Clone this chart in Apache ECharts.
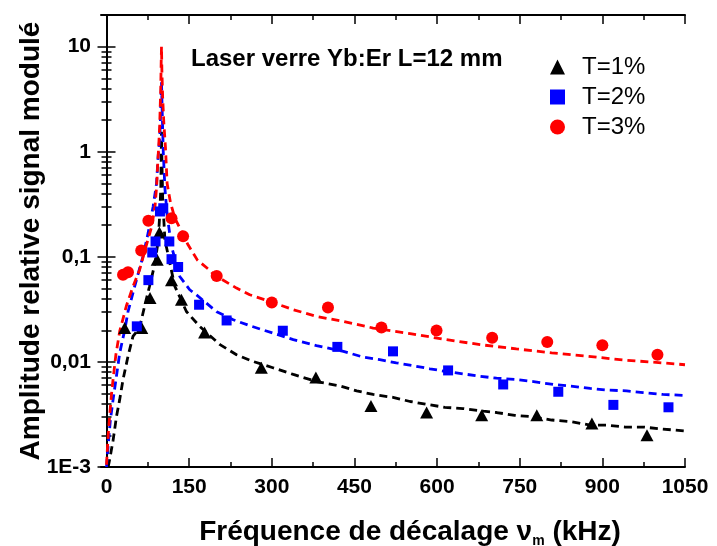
<!DOCTYPE html>
<html>
<head>
<meta charset="utf-8">
<script src="https://cdn.jsdelivr.net/npm/echarts@6/dist/echarts.min.js"></script>
<style>
html,body{margin:0;padding:0;background:#fff;}
#chart{width:717px;height:546px;}
</style>
</head>
<body>
<div id="chart"></div>
<script>
// ---- data ----
const seriesNames = ['T=1%', 'T=2%', 'T=3%'];
const xTicks = [0, 150, 300, 450, 600, 750, 900, 1050];
const xMinorTicks = [75, 225, 375, 525, 675, 825, 975];
const yTicks = [0.001, 0.01, 0.1, 1, 10];
const yTickLabels = ['1E-3', '0,01', '0,1', '1', '10'];
const yMinorTicks = [0.002,0.003,0.004,0.005,0.006,0.007,0.008,0.009,
  0.02,0.03,0.04,0.05,0.06,0.07,0.08,0.09,
  0.2,0.3,0.4,0.5,0.6,0.7,0.8,0.9,
  2,3,4,5,6,7,8,9,20];

const pointsT1 = [[33,0.021],[64,0.021],[79,0.0405],[92,0.094],[96,0.17],[118,0.060],[136,0.039],
  [178,0.019],[281,0.0088],[380,0.0071],[480,0.0038],[581,0.0033],[681,0.0031],[781,0.0031],
  [881,0.0026],[981,0.0020]];
const pointsT2 = [[55,0.0218],[76,0.060],[83,0.110],[89,0.140],[97,0.27],[103,0.29],[114,0.140],
  [118,0.095],[130,0.080],[168,0.035],[218,0.0248],[320,0.0198],[419,0.0139],[520,0.0126],
  [620,0.0083],[720,0.0061],[820,0.0052],[920,0.0039],[1020,0.0037]];
const pointsT3 = [[30,0.0675],[39,0.0713],[63,0.115],[76,0.22],[118,0.233],[139,0.157],[200,0.0656],
  [300,0.0368],[402,0.033],[499,0.0213],[599,0.0199],[700,0.0170],[800,0.0155],[900,0.0144],
  [1000,0.0117]];

const fitT1 = [[3,0.001],[6,0.0012],[12,0.0018],[18,0.003],[24,0.0044],[30,0.0068],[39,0.0113],
  [48,0.0175],[60,0.021],[69,0.0337],[78,0.0522],[88,0.087],[94,0.145],[97,0.279],[98.6,0.465],
  [99.8,1.55],[100.6,0.8],[102,0.35],[106,0.145],[115,0.087],[124,0.0522],[127,0.0486],[145,0.0302],
  [169,0.0218],[206,0.0146],[236,0.0117],[266,0.0101],[302,0.0088],[339,0.0076],[381,0.0065],
  [424,0.0059],[454,0.0053],[484,0.0049],[520,0.0046],[551,0.0042],[587,0.0039],[614,0.0037],
  [647,0.0036],[684,0.0034],[708,0.0033],[741,0.0031],[775,0.0030],[808,0.0028],[844,0.0027],
  [878,0.0025],[908,0.0025],[941,0.0024],[974,0.0024],[1008,0.0023],[1050,0.0022]];
const fitT2 = [[0,0.001],[3,0.0016],[7,0.0028],[12,0.0044],[18,0.0073],[24,0.0122],[33,0.020],
  [39,0.030],[51,0.052],[66,0.10],[75.5,0.168],[84.6,0.30],[90.8,0.50],[93.7,0.9],[96.8,1.39],
  [98,2.15],[99,3.33],[99.8,4.6],[101,2.5],[103,1.0],[106,0.45],[110,0.25],[118,0.125],[133,0.065],
  [151,0.0486],[163,0.0436],[200,0.030],[230,0.0252],[260,0.0221],[302,0.0188],[339,0.0163],
  [381,0.0143],[430,0.0126],[466,0.0111],[496,0.0105],[526,0.0098],[557,0.0092],[587,0.0086],
  [617,0.0081],[647,0.0077],[678,0.0073],[708,0.0070],[744,0.0068],[775,0.0065],[811,0.0061],
  [841,0.0059],[878,0.0056],[908,0.0054],[944,0.0053],[974,0.0051],[1010,0.0049],[1050,0.0048]];
const fitT3 = [[0,0.00105],[3,0.002],[6,0.0032],[9,0.0049],[12,0.0069],[17,0.0117],[24,0.0196],
  [36,0.034],[48,0.052],[60,0.075],[70,0.117],[82,0.194],[88,0.30],[91,0.47],[93,0.78],[95,1.2],
  [96.5,1.75],[97.5,2.7],[98.5,4.1],[99.2,6.9],[99.8,10],[100.5,6.0],[102,3.2],[104,1.9],[107,1.1],
  [110,0.5],[116,0.33],[124,0.234],[148,0.130],[165,0.093],[188,0.074],[194,0.068],[236,0.0504],
  [260,0.0436],[296,0.0376],[339,0.0314],[381,0.0271],[430,0.0243],[484,0.0210],[551,0.0186],
  [617,0.0163],[678,0.0146],[744,0.0133],[808,0.0122],[874,0.0113],[941,0.0104],[1008,0.0098],
  [1050,0.0094]];

const titleText = 'Laser verre Yb:Er L=12 mm';
const colors = ['#000000', '#0000ff', '#ff0000'];
const symbols = ['triangle', 'rect', 'circle'];

// ---- chart ----
const FONT = '"Liberation Sans", Arial, sans-serif';
const chart = echarts.init(document.getElementById('chart'), null, {renderer: 'canvas'});
const axLine = {show: true, lineStyle: {color: '#000', width: 2}};
const noLine = {show: false};
const lblMap = {};
yTicks.forEach((v, i) => { lblMap[Math.round(Math.log10(v))] = yTickLabels[i]; });

function xAx(pos, ticks, len, labels) {
  return {
    type: 'value', position: pos, min: -10, max: 1050,
    axisLine: labels !== null ? axLine : noLine,
    axisTick: {show: true, inside: true, length: len, lineStyle: {color: '#000', width: 1.5}, customValues: ticks},
    axisLabel: labels ? {show: true, customValues: xTicks, margin: 10,
      fontFamily: FONT, fontWeight: 'bold', fontSize: 21, color: '#000',
      formatter: v => String(Math.round(v))} : {show: false},
    splitLine: {show: false},
    name: labels ? 'Fréquence de décalage ν{sub|m} (kHz)' : '',
    nameLocation: 'middle', nameGap: 49,
    nameTextStyle: {fontFamily: FONT, fontWeight: 'bold', fontSize: 28, color: '#000',
      padding: [0, 0, 0, 34],
      rich: {sub: {fontFamily: FONT, fontWeight: 'bold', fontSize: 14, color: '#000', verticalAlign: 'bottom', padding: [18, 0, 0, 0]}}}
  };
}
function yAx(pos, ticks, len, labels) {
  return {
    type: 'log', logBase: 10, position: pos, min: 0.001, max: 20,
    axisLine: labels !== null ? axLine : noLine,
    axisTick: {show: true, inside: true, length: len, lineStyle: {color: '#000', width: 1.5}, customValues: ticks},
    axisLabel: labels ? {show: true, customValues: yTicks, margin: 10,
      fontFamily: FONT, fontWeight: 'bold', fontSize: 21, color: '#000',
      formatter: v => lblMap[Math.round(Math.log10(v))]} : {show: false},
    splitLine: {show: false},
    name: labels ? 'Amplitude relative signal modulé' : '',
    nameLocation: 'middle', nameGap: 56, nameRotate: 90, nameMoveOverlap: false,
    nameTextStyle: {fontFamily: FONT, fontWeight: 'bold', fontSize: 28, color: '#000'}
  };
}

const series = [];
const pts = [pointsT1, pointsT2, pointsT3];
const fits = [fitT1, fitT2, fitT3];
fits.forEach((f, i) => {
  series.push({
    type: 'line', name: 'fit' + i, data: f, showSymbol: false, symbol: 'none',
    lineStyle: {color: colors[i], width: 2.8, type: [8, 5]}, z: 2, silent: true,
    clip: true
  });
});
pts.forEach((p, i) => {
  series.push({
    type: 'scatter', name: seriesNames[i], data: p, symbol: symbols[i],
    symbolSize: i === 0 ? [13, 12] : (i === 1 ? 10 : 12),
    itemStyle: {color: colors[i], opacity: 1}, z: 3
  });
});

chart.setOption({
  animation: false,
  backgroundColor: '#fff',
  grid: {left: 101, right: 32, top: 15, bottom: 79, containLabel: false, outerBoundsMode: 'none'},
  title: {text: titleText, left: 186, top: 42,
    textStyle: {fontFamily: FONT, fontWeight: 'bold', fontSize: 24, color: '#000'}},
  legend: {
    data: seriesNames, orient: 'vertical', left: 545, top: 50, itemGap: 6,
    itemWidth: 15, itemHeight: 15,
    textStyle: {fontFamily: FONT, fontSize: 24, color: '#000', padding: [0, 0, 0, 12]}
  },
  xAxis: [
    xAx('bottom', xTicks, 9, true),
    xAx('bottom', xMinorTicks, 5, null),
    xAx('top', xTicks, 9, false),
    xAx('top', xMinorTicks, 5, null)
  ],
  yAxis: [
    yAx('left', yTicks, 9, true),
    yAx('left', yMinorTicks, 5, null),
    yAx('right', yTicks, 9, false),
    yAx('right', yMinorTicks, 5, null)
  ],
  series: series
});
</script>
</body>
</html>
